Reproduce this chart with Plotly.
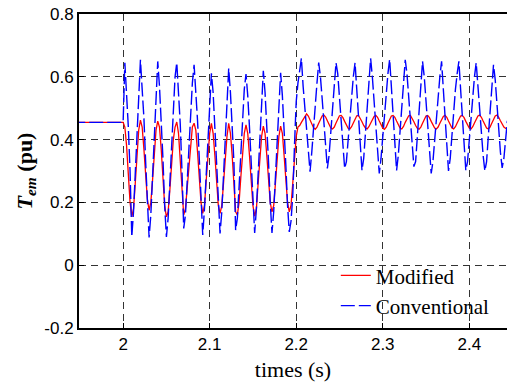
import plotly.graph_objects as go

# ---- data ----
t_pre = 1.94          # start of the steady pre-disturbance segment (s)
t_first = 2.0         # first sample of the recorded transient (s)
dt = 0.002            # sample interval (s)
steady_value = 0.455  # torque before the disturbance (pu)

conventional = [
    0.455, 0.645, 0.55, 0.44, 0.30, 0.09, 0.17, 0.30, 0.43, 0.55,
    0.654, 0.56, 0.47, 0.33, 0.18, 0.088, 0.16, 0.29, 0.42, 0.54,
    0.649, 0.57, 0.46, 0.34, 0.19, 0.09, 0.15, 0.27, 0.40, 0.51,
    0.60, 0.645, 0.55, 0.45, 0.30, 0.117, 0.16, 0.26, 0.38, 0.50,
    0.58, 0.638, 0.56, 0.46, 0.34, 0.20, 0.096, 0.18, 0.30, 0.42,
    0.53, 0.611, 0.55, 0.44, 0.31, 0.18, 0.101, 0.17, 0.29, 0.41,
    0.52, 0.627, 0.55, 0.45, 0.33, 0.112, 0.15, 0.25, 0.37, 0.48,
    0.56, 0.609, 0.54, 0.44, 0.32, 0.19, 0.103, 0.18, 0.30, 0.42,
    0.52, 0.619, 0.55, 0.45, 0.33, 0.20, 0.103, 0.17, 0.28, 0.40,
    0.51, 0.613, 0.54, 0.44, 0.32, 0.19, 0.106, 0.14, 0.22, 0.38,
    0.52, 0.58, 0.62, 0.659, 0.57, 0.50, 0.42, 0.34, 0.298, 0.36,
    0.44, 0.52, 0.58, 0.645, 0.60, 0.53, 0.45, 0.37, 0.308, 0.35,
    0.43, 0.51, 0.57, 0.645, 0.61, 0.54, 0.46, 0.38, 0.308, 0.33,
    0.40, 0.48, 0.55, 0.60, 0.645, 0.56, 0.48, 0.39, 0.302, 0.34,
    0.42, 0.50, 0.57, 0.659, 0.60, 0.52, 0.44, 0.36, 0.292, 0.34,
    0.41, 0.49, 0.55, 0.61, 0.656, 0.57, 0.49, 0.40, 0.302, 0.35,
    0.43, 0.51, 0.57, 0.654, 0.61, 0.54, 0.46, 0.38, 0.314, 0.33,
    0.41, 0.49, 0.56, 0.649, 0.60, 0.52, 0.44, 0.36, 0.292, 0.33,
    0.40, 0.47, 0.54, 0.60, 0.649, 0.57, 0.49, 0.40, 0.30, 0.34,
    0.42, 0.50, 0.56, 0.61, 0.649, 0.56, 0.48, 0.39, 0.302, 0.33,
    0.40, 0.48, 0.55, 0.60, 0.645, 0.57, 0.49, 0.41, 0.35, 0.30,
    0.33, 0.41, 0.49, 0.56, 0.638, 0.59, 0.51, 0.43, 0.36, 0.31,
    0.34, 0.40, 0.46,
]

modified = [
    0.455, 0.44, 0.38, 0.29, 0.20, 0.154, 0.18, 0.26, 0.35, 0.43,
    0.462, 0.44, 0.37, 0.28, 0.21, 0.175, 0.20, 0.27, 0.36, 0.43,
    0.459, 0.44, 0.37, 0.28, 0.19, 0.154, 0.17, 0.24, 0.32, 0.40,
    0.44, 0.456, 0.42, 0.34, 0.24, 0.16, 0.18, 0.25, 0.33, 0.40,
    0.44, 0.452, 0.43, 0.36, 0.28, 0.20, 0.165, 0.19, 0.27, 0.35,
    0.42, 0.452, 0.42, 0.35, 0.26, 0.19, 0.165, 0.19, 0.26, 0.34,
    0.41, 0.452, 0.42, 0.35, 0.25, 0.17, 0.16, 0.20, 0.28, 0.36,
    0.42, 0.447, 0.42, 0.35, 0.26, 0.19, 0.156, 0.18, 0.26, 0.34,
    0.41, 0.443, 0.42, 0.35, 0.27, 0.20, 0.17, 0.19, 0.26, 0.34,
    0.41, 0.443, 0.42, 0.35, 0.27, 0.20, 0.17, 0.19, 0.26, 0.34,
    0.41, 0.44, 0.445, 0.455, 0.465, 0.475, 0.482, 0.475, 0.462, 0.448,
    0.438, 0.433, 0.44, 0.452, 0.465, 0.475, 0.478, 0.472, 0.46, 0.447,
    0.437, 0.434, 0.44, 0.453, 0.466, 0.476, 0.477, 0.47, 0.458, 0.445,
    0.436, 0.434, 0.441, 0.453, 0.466, 0.476, 0.477, 0.469, 0.457, 0.445,
    0.437, 0.434, 0.441, 0.452, 0.464, 0.474, 0.477, 0.471, 0.459, 0.446,
    0.437, 0.433, 0.44, 0.452, 0.465, 0.475, 0.477, 0.471, 0.459, 0.446,
    0.437, 0.434, 0.442, 0.455, 0.467, 0.476, 0.477, 0.469, 0.457, 0.445,
    0.436, 0.433, 0.44, 0.452, 0.465, 0.475, 0.477, 0.47, 0.458, 0.446,
    0.437, 0.434, 0.44, 0.452, 0.464, 0.474, 0.477, 0.471, 0.459, 0.446,
    0.437, 0.434, 0.441, 0.453, 0.465, 0.475, 0.477, 0.47, 0.458, 0.446,
    0.437, 0.434, 0.441, 0.453, 0.466, 0.475, 0.478, 0.471, 0.459, 0.446,
    0.437, 0.434, 0.44, 0.452, 0.465, 0.475, 0.478, 0.471, 0.46, 0.448,
    0.44, 0.436, 0.436,
]

series_names = ["Modified", "Conventional"]
x_tick_vals = [2.0, 2.1, 2.2, 2.3, 2.4]
x_tick_text = ["2", "2.1", "2.2", "2.3", "2.4"]
y_tick_vals = [-0.2, 0.0, 0.2, 0.4, 0.6, 0.8]
y_tick_text = ["-0.2", "0", "0.2", "0.4", "0.6", "0.8"]

# time axis: steady point, then uniform samples
t = [t_pre] + [round(t_first + dt * i, 4) for i in range(len(conventional))]
y_mod = [steady_value] + modified
y_conv = [steady_value] + conventional

fig = go.Figure()
fig.add_trace(go.Scatter(
    x=t, y=y_mod, mode="lines", name=series_names[0],
    line=dict(color="#ff0000", width=1.3),
))
fig.add_trace(go.Scatter(
    x=t, y=y_conv, mode="lines", name=series_names[1],
    line=dict(color="#0000ff", width=1.4, dash="14px,4px"),
))

serif = "Liberation Serif, Times New Roman, serif"
sans = "Liberation Sans, Arial, sans-serif"

# white patch behind the legend (hides gridlines like the original)
fig.add_shape(type="rect", xref="paper", yref="paper",
              x0=0.535, x1=0.98, y0=0.003, y1=0.215,
              fillcolor="white", line=dict(width=0), layer="between")

fig.update_layout(
    width=507, height=391,
    margin=dict(l=79, r=0, t=14, b=63),
    paper_bgcolor="white", plot_bgcolor="white",
    showlegend=True,
    legend=dict(
        x=0.6, y=0.232, xanchor="left", yanchor="top",
        bgcolor="rgba(255,255,255,0)", borderwidth=0,
        font=dict(family=serif, size=21, color="black"),
        tracegroupgap=0,
    ),
    xaxis=dict(
        range=[1.949, 2.4436],
        tickvals=x_tick_vals, ticktext=x_tick_text,
        ticks="inside", ticklen=5, tickwidth=1, tickcolor="black",
        showline=True, linecolor="black", linewidth=2, mirror=True,
        showgrid=True, gridcolor="#333333", gridwidth=1, griddash="7px,5px",
        zeroline=False,
        tickfont=dict(family=sans, size=17, color="black"),
        title=dict(text="times (s)", font=dict(family=serif, size=22, color="black"), standoff=8),
    ),
    yaxis=dict(
        range=[-0.2, 0.8],
        tickvals=y_tick_vals, ticktext=y_tick_text,
        ticks="inside", ticklen=5, tickwidth=1, tickcolor="black",
        showline=True, linecolor="black", linewidth=2, mirror=False,
        showgrid=True, gridcolor="#333333", gridwidth=1, griddash="7px,5px",
        zeroline=False, ticklabeloverflow="allow",
        tickfont=dict(family=sans, size=17, color="black"),
        title=dict(text="<b><i>T<sub>em</sub></i> (pu)</b>",
                   font=dict(family=serif, size=22, color="black"), standoff=6),
    ),
)

# remove the browser's default 8px body margin so the figure fills the window
fig.write_html("out.html", config={"displayModeBar": False},
               post_script="document.body.style.margin='0';")
